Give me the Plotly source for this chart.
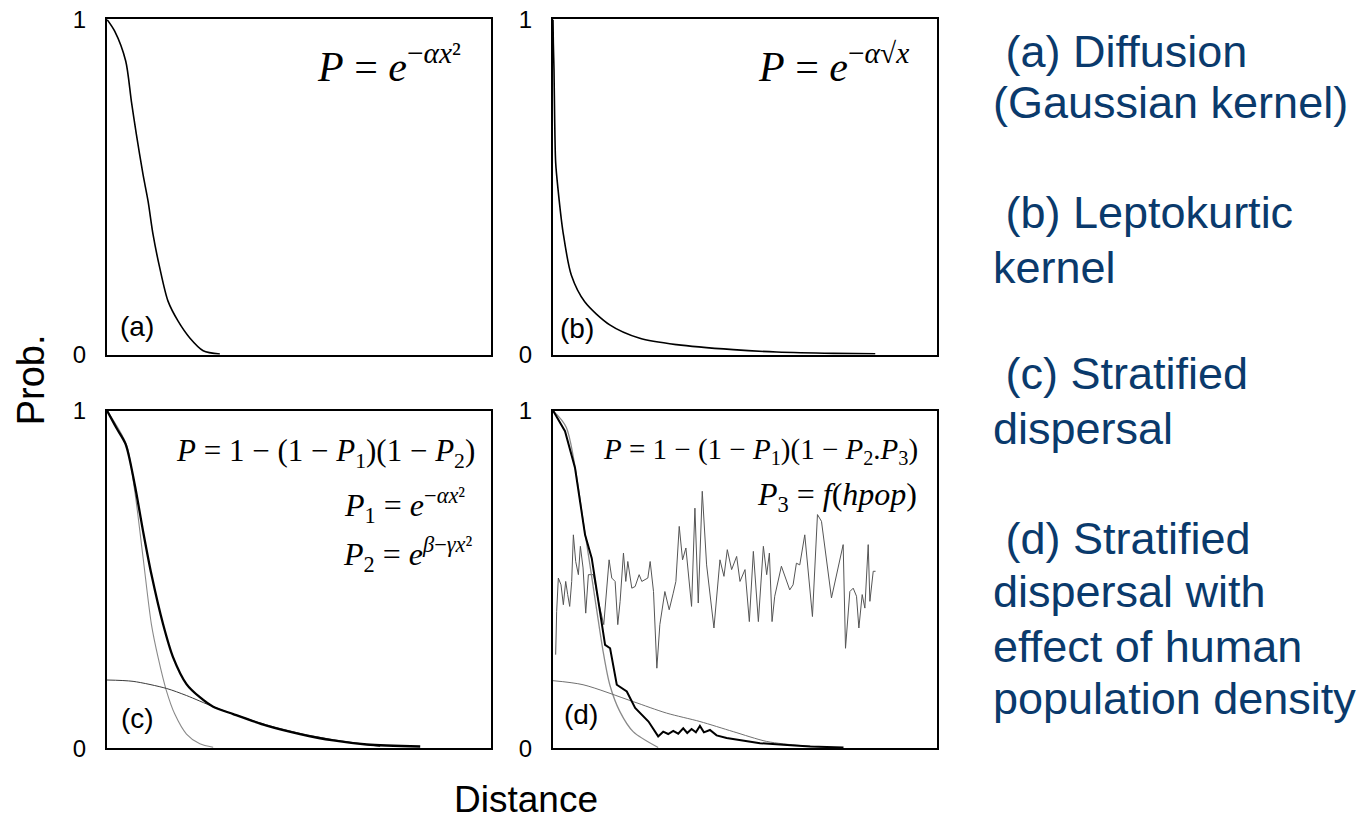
import plotly.graph_objects as go

# ---------------- data (distance in arbitrary units, probability 0..1) ----------------
a_x = [0, 23, 56, 73, 88, 108, 123, 138, 158, 183, 213, 248, 288, 338]
a_y = [1.0, 0.965, 0.876, 0.756, 0.657, 0.537, 0.458, 0.358, 0.259, 0.159, 0.100, 0.050, 0.012, 0.002]

b_x = [0, 1, 3, 5, 8, 15, 30, 55, 95, 170, 260, 370, 540, 670, 840, 965]
b_y = [1.0, 0.929, 0.850, 0.702, 0.573, 0.494, 0.366, 0.237, 0.158, 0.089, 0.049, 0.030, 0.015, 0.008, 0.004, 0.003]

c_p_x = [0, 28, 56, 83, 108, 133, 168, 198, 238, 278, 318, 378, 478, 578, 678, 778, 938]
c_p_y = [1.0, 0.949, 0.900, 0.781, 0.643, 0.515, 0.367, 0.269, 0.190, 0.151, 0.123, 0.101, 0.067, 0.042, 0.023, 0.011, 0.005]
c_p1_x = [0, 58, 83, 108, 133, 153, 178, 203, 238, 278, 318]
c_p1_y = [1.0, 0.900, 0.762, 0.565, 0.367, 0.269, 0.170, 0.101, 0.042, 0.013, 0.003]
c_p2_x = [0, 78, 178, 238, 318, 378, 478, 578, 678, 778, 818]
c_p2_y = [0.202, 0.198, 0.177, 0.156, 0.123, 0.101, 0.069, 0.044, 0.025, 0.011, 0.005]

d_p_x = [0, 36, 66, 96, 116, 136, 156, 171, 191, 221, 246, 286, 311, 315, 330, 345, 360,
         375, 390, 402, 415, 428, 440, 452, 470, 490, 520, 560, 620, 690, 770, 870]
d_p_y = [1.0, 0.939, 0.830, 0.632, 0.563, 0.435, 0.306, 0.296, 0.188, 0.168, 0.119, 0.079,
         0.040, 0.035, 0.049, 0.042, 0.051, 0.043, 0.059, 0.045, 0.057, 0.047, 0.066, 0.047,
         0.054, 0.038, 0.030, 0.024, 0.015, 0.010, 0.005, 0.002]
d_p1_x = [0, 40, 95, 130, 150, 170, 200, 240, 315]
d_p1_y = [1.0, 0.950, 0.642, 0.415, 0.287, 0.188, 0.109, 0.049, 0.002]
d_p2_x = [0, 90, 240, 340, 440, 540, 640, 740, 840]
d_p2_y = [0.200, 0.188, 0.138, 0.104, 0.079, 0.049, 0.020, 0.008, 0.002]
d_p3_x = [8, 11, 16, 24, 31, 38, 44, 50, 56, 61, 68, 76, 82, 90, 98, 106, 121, 136, 152, 168,
          176, 186, 194, 201, 211, 218, 224, 236, 246, 258, 266, 284, 291, 301, 311, 320, 335,
          348, 360, 368, 378, 388, 398, 415, 425, 435, 447, 460, 482, 500, 512, 522, 535, 550,
          560, 575, 588, 600, 615, 630, 640, 648, 656, 664, 684, 699, 709, 719, 729, 739, 754,
          777, 792, 804, 834, 869, 876, 889, 899, 909, 916, 926, 934, 944, 949, 959, 966]
d_p3_y = [0.277, 0.405, 0.504, 0.484, 0.425, 0.494, 0.455, 0.420, 0.494, 0.632, 0.553, 0.514,
          0.598, 0.534, 0.400, 0.514, 0.514, 0.435, 0.366, 0.558, 0.504, 0.494, 0.366, 0.435,
          0.578, 0.494, 0.553, 0.474, 0.479, 0.514, 0.494, 0.504, 0.553, 0.464, 0.237, 0.366,
          0.464, 0.410, 0.459, 0.494, 0.657, 0.558, 0.593, 0.420, 0.711, 0.430, 0.761, 0.543,
          0.356, 0.558, 0.509, 0.588, 0.529, 0.568, 0.494, 0.529, 0.375, 0.583, 0.375, 0.598,
          0.514, 0.578, 0.375, 0.450, 0.539, 0.494, 0.469, 0.484, 0.548, 0.543, 0.632, 0.390,
          0.692, 0.672, 0.445, 0.603, 0.296, 0.464, 0.474, 0.450, 0.356, 0.455, 0.415, 0.603,
          0.435, 0.524, 0.524]

y_tickvals = [0, 1]
y_ticktext = ["0", "1"]
panel_labels = ["(a)", "(b)", "(c)", "(d)"]
description_lines = [
    "\u00a0(a) Diffusion", "(Gaussian kernel)",
    "\u00a0(b) Leptokurtic", "kernel",
    "\u00a0(c) Stratified", "dispersal",
    "\u00a0(d) Stratified", "dispersal with", "effect of human", "population density",
]

# ---------------- layout helpers ----------------
W, H = 1364, 819
# the photographed page maps figure pixel p to screen row 12 + 0.96875 * p;
# fy() takes the wanted screen row and returns the paper fraction
Y0, YS = 12.0, 0.96875
def fx(p):
    return p / W
def fy(yd):
    return 1 - ((yd - Y0) / YS) / H

SANS = "Liberation Sans, Arial, sans-serif"
SERIF = "Liberation Serif, Times New Roman, serif"
BLACK = "#000000"
GRAY = "#8a8a8a"
DARK = "#3a3a3a"
NAVY = "#0a3a6c"

fig = go.Figure()

def add(x, y, ax, color, width, shape="spline"):
    fig.add_trace(go.Scatter(x=x, y=y, mode="lines", xaxis="x" + ax, yaxis="y" + ax,
                             line=dict(color=color, width=width, shape=shape,
                                       smoothing=0.8 if shape == "spline" else None),
                             hoverinfo="skip", showlegend=False))

add(a_x, a_y, "", BLACK, 1.6)
add(b_x, b_y, "2", BLACK, 1.6)
add(c_p1_x, c_p1_y, "3", GRAY, 1.1)
add(c_p2_x, c_p2_y, "3", DARK, 1.0)
add(c_p_x, c_p_y, "3", BLACK, 2.3)
add(d_p3_x, d_p3_y, "4", "#555555", 1.0, "linear")
add(d_p1_x, d_p1_y, "4", GRAY, 1.3)
add(d_p2_x, d_p2_y, "4", "#707070", 1.0)
add(d_p_x, d_p_y, "4", BLACK, 2.0, "linear")

xcols = [(107, 491), (553, 937)]
yrows = [(17.5, 353.3), (409.3, 747.5)]

def xax(dom):
    return dict(domain=[fx(dom[0]), fx(dom[1])], range=[0, 1150], showgrid=False,
                zeroline=False, showline=True, mirror=True, linecolor=BLACK, linewidth=2,
                showticklabels=False, ticks="", fixedrange=True)

def yax(dom, anchor):
    return dict(domain=[fy(dom[1]), fy(dom[0])], range=[0, 1], showgrid=False,
                zeroline=False, showline=True, mirror=True, linecolor=BLACK, linewidth=2,
                tickvals=y_tickvals, ticktext=y_ticktext, ticks="", ticklabelstandoff=14,
                tickfont=dict(family=SANS, size=24, color=BLACK), anchor=anchor,
                fixedrange=True)

fig.update_layout(
    width=W, height=H, margin=dict(l=0, r=0, t=0, b=0, pad=0), autosize=False,
    paper_bgcolor="white", plot_bgcolor="white",
    xaxis=dict(xax(xcols[0]), anchor="y"),
    yaxis=yax(yrows[0], "x"),
    xaxis2=dict(xax(xcols[1]), anchor="y2"),
    yaxis2=yax(yrows[0], "x2"),
    xaxis3=dict(xax(xcols[0]), anchor="y3"),
    yaxis3=yax(yrows[1], "x3"),
    xaxis4=dict(xax(xcols[1]), anchor="y4"),
    yaxis4=yax(yrows[1], "x4"),
)

ann = []
for lab, (cx, cy) in zip(panel_labels, [(137, 325), (577, 327), (137, 718), (581, 714)]):
    ann.append(dict(x=fx(cx), y=fy(cy), xref="paper", yref="paper", text=lab, showarrow=False,
                    font=dict(family=SANS, size=28, color=BLACK), xanchor="center", yanchor="middle"))

eqs = [
    ("<i>P</i> = <i>e</i><sup>\u2212<i>\u03b1x</i>\u00b2</sup>", 463, 62, 42),
    ("<i>P</i> = <i>e</i><sup>\u2212<i>\u03b1</i>\u221a<i>x</i></sup>", 911, 62, 42),
    ("<i>P</i> = 1 \u2212 (1 \u2212 <i>P</i><sub>1</sub>)(1 \u2212 <i>P</i><sub>2</sub>)", 477, 452, 31),
    ("<i>P</i><sub>1</sub> = <i>e</i><sup>\u2212<i>\u03b1x</i>\u00b2</sup>", 467, 504, 32),
    ("<i>P</i><sub>2</sub> = <i>e</i><sup><i>\u03b2</i>\u2212<i>\u03b3x</i>\u00b2</sup>", 475, 553, 32),
    ("<i>P</i> = 1 \u2212 (1 \u2212 <i>P</i><sub>1</sub>)(1 \u2212 <i>P</i><sub>2</sub>.<i>P</i><sub>3</sub>)", 920, 450, 29),
    ("<i>P</i><sub>3</sub> = <i>f</i>(<i>hpop</i>)", 919, 495, 32),
]
for t, rx, cy, fs in eqs:
    ann.append(dict(x=fx(rx), y=fy(cy), xref="paper", yref="paper", text=t, showarrow=False,
                    font=dict(family=SERIF, size=fs, color=BLACK), xanchor="right", yanchor="middle"))

ann.append(dict(x=fx(31), y=fy(379), xref="paper", yref="paper", text="Prob.", textangle=-90,
                showarrow=False, font=dict(family=SANS, size=38, color=BLACK),
                xanchor="center", yanchor="middle"))
ann.append(dict(x=fx(526), y=fy(799), xref="paper", yref="paper", text="Distance",
                showarrow=False, font=dict(family=SANS, size=37, color=BLACK),
                xanchor="center", yanchor="middle"))

baselines = [67, 118, 228, 283, 390, 445, 555, 608, 663, 715]
for t, b in zip(description_lines, baselines):
    ann.append(dict(x=fx(991), y=fy(b - 17.5), xref="paper", yref="paper", text=t, showarrow=False,
                    align="left", font=dict(family=SANS, size=45, color=NAVY),
                    xanchor="left", yanchor="middle"))

fig.update_layout(annotations=ann)
fig.write_html("out.html")
